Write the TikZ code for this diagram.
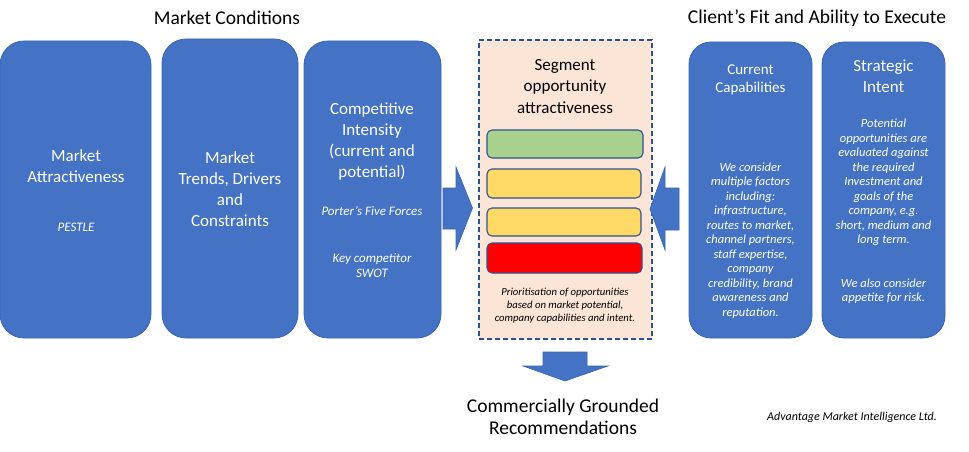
\documentclass[tikz,border=0pt]{standalone}
\usepackage{fontspec}
\setmainfont{Carlito}
\definecolor{boxblue}{HTML}{4472C4}
\definecolor{boxedge}{HTML}{3A64B0}
\definecolor{navy}{HTML}{2F528F}
\definecolor{peach}{HTML}{FBE5D6}
\definecolor{bargreen}{HTML}{A9D18E}
\definecolor{baryellow}{HTML}{FFD966}
\definecolor{barred}{HTML}{FF0000}
\tikzset{
  blockbox/.style={draw=boxedge, fill=boxblue, line width=0.8pt, rounded corners=24pt, inner sep=0pt, outer sep=0pt},
  barbox/.style={draw=navy, line width=1.1pt, rounded corners=5pt, inner sep=0pt, outer sep=0pt, minimum height=28pt},
  headtxt/.style={text=black, font=\fontsize{19.5}{22}\selectfont, align=center, inner sep=0pt},
  titletxt/.style={text=white, font=\fontsize{17}{21}\selectfont, align=center, inner sep=0pt},
  smalltitle/.style={text=white, font=\fontsize{15}{18}\selectfont, align=center, inner sep=0pt},
  ittxt/.style={text=white, font=\fontsize{13}{15.5}\selectfont\itshape, align=center, inner sep=0pt},
  bodytxt/.style={text=white, font=\fontsize{12.5}{14.5}\selectfont\itshape, align=center, inner sep=0pt},
  blockarrow/.style={fill=boxblue, draw=boxedge, line width=0.6pt},
}
\begin{document}
\begin{tikzpicture}[x=1pt,y=-1pt]
\useasboundingbox (0,0) rectangle (969,452);

% headings
\node[headtxt] (hmc) at (227,18) {Market Conditions};
\node[headtxt] (hcf) at (817,18) {Client’s Fit and Ability to Execute};

% left blue boxes
\node[blockbox, minimum width=151pt, minimum height=297pt] (b1) at (75.5,189.5) {};
\node[blockbox, minimum width=136pt, minimum height=299pt] (b2) at (230,188.5) {};
\node[blockbox, minimum width=137pt, minimum height=297pt] (b3) at (372.5,189.5) {};

\node[titletxt] (t1) at (76,166.5) {Market\\Attractiveness};
\node[ittxt] (p1) at (76,227) {PESTLE};
\node[titletxt] (t2) at (230,189) {Market\\Trends, Drivers\\and\\Constraints};
\node[titletxt] (t3) at (372,141.5) {Competitive\\Intensity\\(current and\\potential)};
\node[ittxt] (p3) at (372,211) {Porter’s Five Forces};
\node[ittxt] (k3) at (372,265.5) {Key competitor\\SWOT};

% central dashed box
\node[draw=navy, fill=peach, line width=1.5pt, dash pattern=on 5pt off 3pt, minimum width=173pt, minimum height=299pt, inner sep=0pt] (seg) at (565.5,189.5) {};
\node[text=black, font=\fontsize{17}{21.5}\selectfont, align=center, inner sep=0pt] (segt) at (565,86.5) {Segment\\opportunity\\attractiveness};
\node[barbox, fill=bargreen, minimum width=156pt, minimum height=28pt] (g1) at (565,144) {};
\node[barbox, fill=baryellow, minimum width=154pt, minimum height=29pt] (y1) at (564,183.5) {};
\node[barbox, fill=baryellow, minimum width=154pt, minimum height=28pt] (y2) at (564,222) {};
\node[barbox, fill=barred, minimum width=155pt, minimum height=30pt] (r1) at (564.5,258) {};
\node[text=black, font=\fontsize{10.7}{13}\selectfont\itshape, align=center, inner sep=0pt] (prio) at (565,306) {Prioritisation of opportunities\\based on market potential,\\company capabilities and intent.};

% right boxes
\node[blockbox, rounded corners=22pt, minimum width=123pt, minimum height=296pt] (b4) at (750.5,190) {};
\node[blockbox, rounded corners=22pt, minimum width=123pt, minimum height=296pt] (b5) at (883.5,190) {};
\node[smalltitle] (t4) at (750.5,80) {Current\\Capabilities};
\node[bodytxt] (c4) at (750.5,240.5) {We consider\\multiple factors\\including:\\infrastructure,\\routes to market,\\channel partners,\\staff expertise,\\company\\credibility, brand\\awareness and\\reputation.};
\node[titletxt] (t5) at (883.5,76.5) {Strategic\\Intent};
\node[bodytxt] (c5) at (883.5,182.5) {Potential\\opportunities are\\evaluated against\\the required\\Investment and\\goals of the\\company, e.g.\\short, medium and\\long term.};
\node[bodytxt] (c5b) at (883.5,291) {We also consider\\appetite for risk.};

% block arrows
\draw[blockarrow] (443,188) -- (456,188) -- (456,167) -- (472.5,208) -- (456,250) -- (456,229) -- (443,229) -- cycle;
\draw[blockarrow] (679,188) -- (665,188) -- (665,167) -- (650,209) -- (665,250) -- (665,230) -- (679,230) -- cycle;
\draw[blockarrow] (543,352) -- (587,352) -- (587,366) -- (608,366) -- (565,381) -- (523,366) -- (543,366) -- cycle;

% bottom texts
\node[headtxt] (rec) at (563,417) {Commercially Grounded\\Recommendations};
\node[text=black, font=\fontsize{12}{14}\selectfont\itshape, inner sep=0pt] (aml) at (852,417) {Advantage Market Intelligence Ltd.};
\end{tikzpicture}
\end{document}
